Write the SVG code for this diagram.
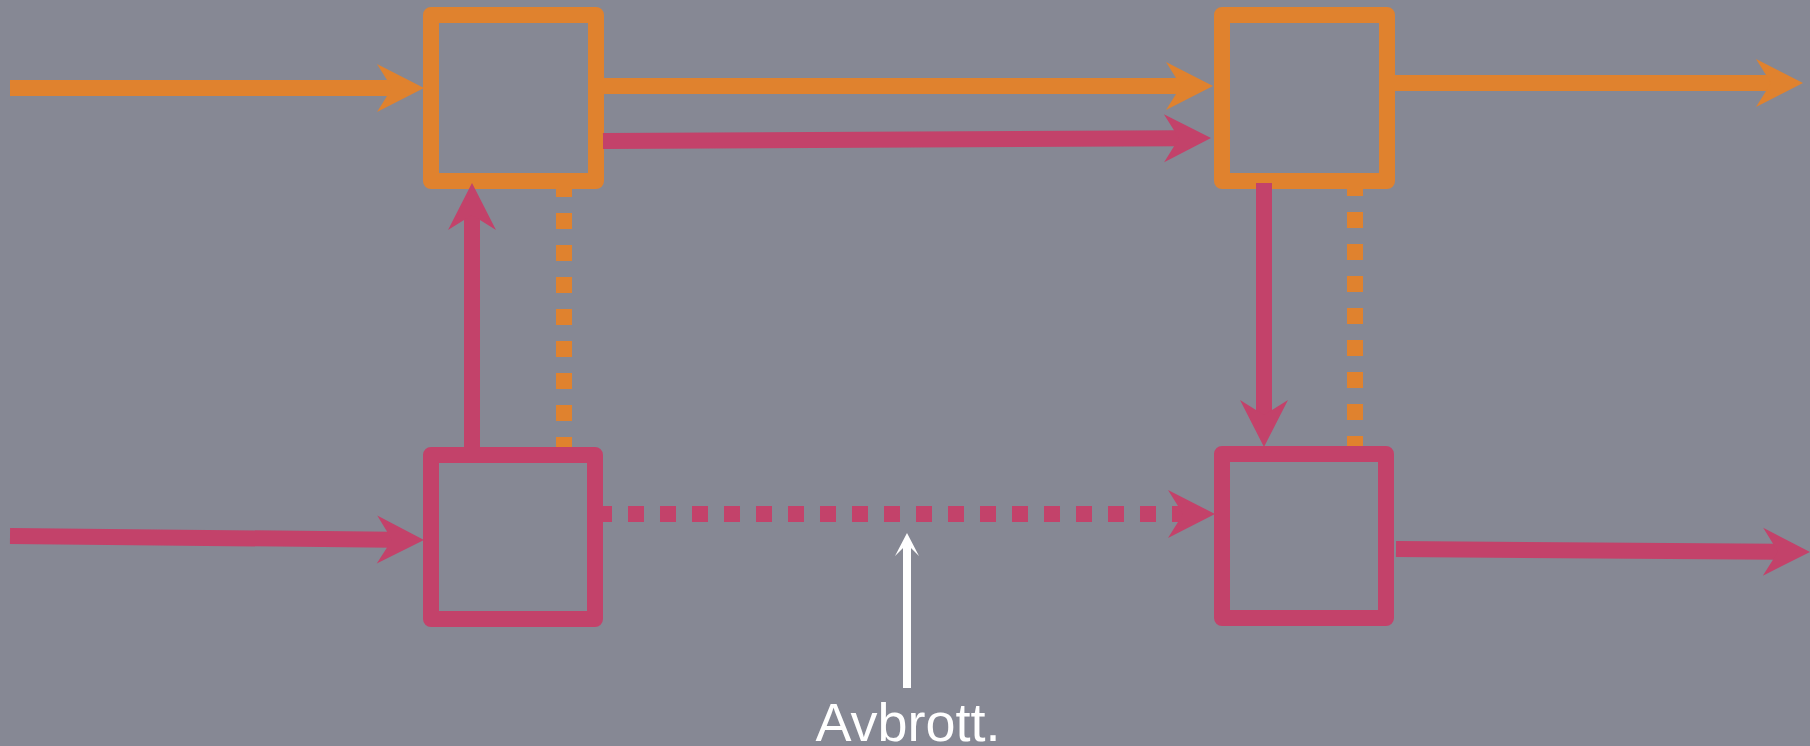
<svg xmlns="http://www.w3.org/2000/svg" width="1810" height="746" viewBox="0 0 1810 746">
  <style>
    .box { fill: none; stroke-width: 16; stroke-linejoin: round; }
    .orange { stroke: #E0822E; }
    .pink { stroke: #C3426A; }
    .wire { fill: none; stroke-width: 16; stroke-linecap: butt; }
    .dotted { stroke-dasharray: 16 16; }
    .label { font-family: "Liberation Sans", Arial, sans-serif; font-size: 54px; fill: #FFFFFF; }
  </style>
  <defs>
    <!-- arrowheads: line ends at the notch (0,0), tip 32 units ahead -->
    <marker id="head-orange" markerUnits="userSpaceOnUse" orient="auto" refX="0" refY="0"
            viewBox="-15 -24 48 48" markerWidth="48" markerHeight="48" overflow="visible">
      <path d="M32,0 L-15,-24 L0,0 L-15,24 Z" fill="#E0822E"/>
    </marker>
    <marker id="head-pink" markerUnits="userSpaceOnUse" orient="auto" refX="0" refY="0"
            viewBox="-15 -24 48 48" markerWidth="48" markerHeight="48" overflow="visible">
      <path d="M32,0 L-15,-24 L0,0 L-15,24 Z" fill="#C3426A"/>
    </marker>
    <marker id="head-white" markerUnits="userSpaceOnUse" orient="auto" refX="0" refY="0"
            viewBox="-12 -12 24 24" markerWidth="24" markerHeight="24" overflow="visible">
      <path d="M11,0 L-12,-12 L0,0 L-12,12 Z" fill="#FFFFFF"/>
    </marker>
  </defs>

  <rect x="0" y="0" width="1810" height="746" fill="#868894"/>

  <g id="node-top-left">
    <rect class="box orange" x="431" y="15" width="165" height="166"/>
  </g>
  <g id="node-top-right">
    <rect class="box orange" x="1222" y="15" width="165" height="166"/>
  </g>
  <g id="node-bottom-left">
    <rect class="box pink" x="431" y="455" width="164" height="164"/>
  </g>
  <g id="node-bottom-right">
    <rect class="box pink" x="1222" y="454" width="164" height="164"/>
  </g>

  <g id="connectors">
    <!-- orange flow -->
    <line class="wire orange" x1="10" y1="88" x2="392" y2="88" marker-end="url(#head-orange)"/>
    <line class="wire orange" x1="604" y1="86" x2="1181" y2="86" marker-end="url(#head-orange)"/>
    <line class="wire orange" x1="1395" y1="83" x2="1771" y2="83" marker-end="url(#head-orange)"/>
    <line class="wire orange dotted" x1="564" y1="181" x2="564" y2="447"/>
    <line class="wire orange dotted" x1="1355" y1="180" x2="1355" y2="446"/>

    <!-- pink flow -->
    <line class="wire pink" x1="603" y1="141" x2="1179" y2="138.2" marker-end="url(#head-pink)"/>
    <line class="wire pink" x1="472" y1="447" x2="472" y2="215" marker-end="url(#head-pink)"/>
    <line class="wire pink" x1="1264" y1="183" x2="1264" y2="415" marker-end="url(#head-pink)"/>
    <line class="wire pink dotted" x1="596" y1="514" x2="1183" y2="514" marker-end="url(#head-pink)"/>
    <line class="wire pink" x1="10" y1="536" x2="392" y2="539.7" marker-end="url(#head-pink)"/>
    <line class="wire pink" x1="1396" y1="549" x2="1778" y2="551.8" marker-end="url(#head-pink)"/>

    <!-- pointer to the broken link -->
    <line x1="907" y1="688" x2="907" y2="544" stroke="#FFFFFF" stroke-width="8" marker-end="url(#head-white)"/>
  </g>

  <text class="label" x="908" y="741" text-anchor="middle">Avbrott.</text>
</svg>
